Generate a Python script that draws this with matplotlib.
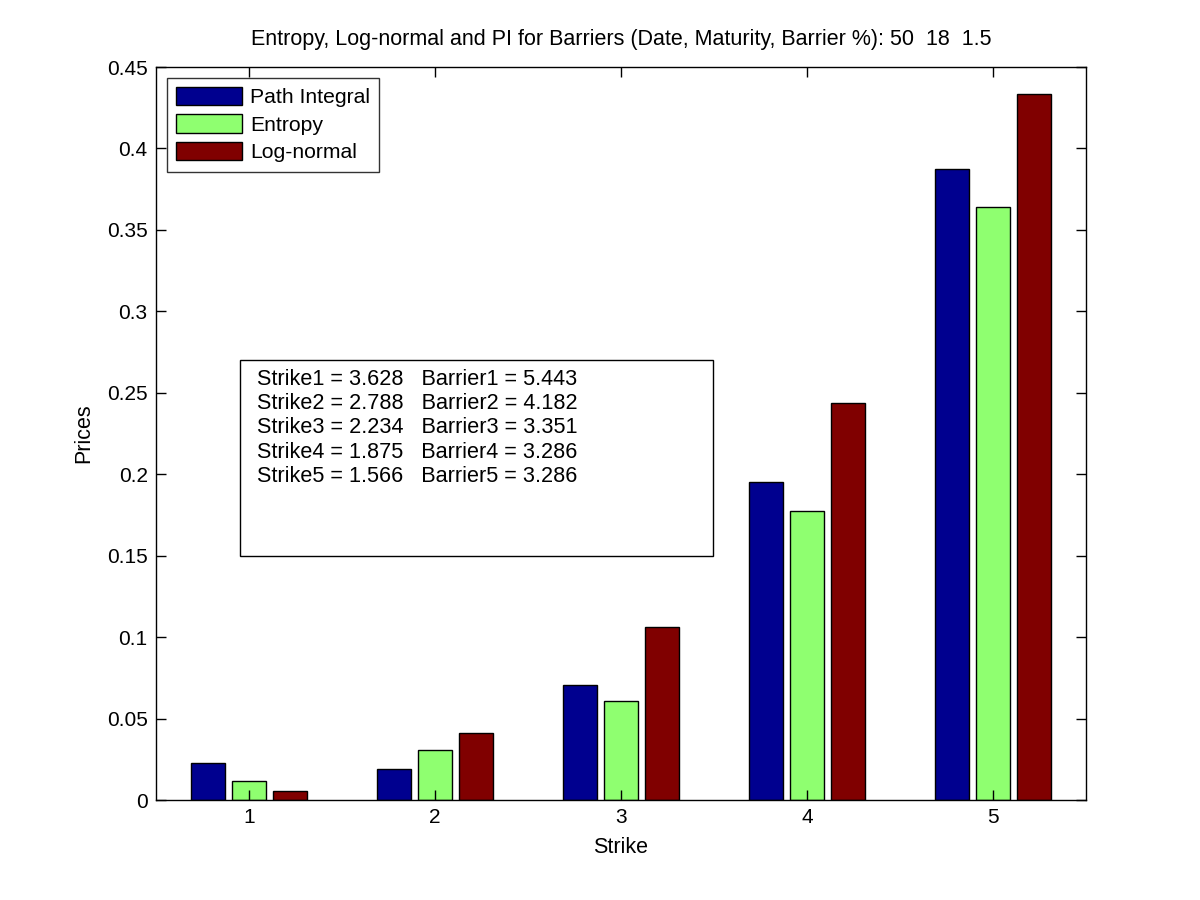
import numpy as np
import matplotlib.pyplot as plt
from matplotlib.patches import Rectangle

plt.rcParams['font.family'] = ['Liberation Sans', 'DejaVu Sans']

# ---------------------- data ----------------------
strikes = [1, 2, 3, 4, 5]
path_integral = [0.0227, 0.0190, 0.0706, 0.1952, 0.3874]
entropy = [0.0117, 0.0305, 0.0608, 0.1772, 0.3640]
log_normal = [0.0055, 0.0411, 0.1060, 0.2435, 0.4334]
series_names = ['Path Integral', 'Entropy', 'Log-normal']
strike_vals = ['3.628', '2.788', '2.234', '1.875', '1.566']
barrier_vals = ['5.443', '4.182', '3.351', '3.286', '3.286']
title = 'Entropy, Log-normal and PI for Barriers (Date, Maturity, Barrier %): 50  18  1.5'

colors = ['#00008F', '#8FFF70', '#800000']

# ---------------------- plot ----------------------
fig = plt.figure(figsize=(12, 9), dpi=100)
ax = fig.add_axes([0.13, 0.111, 0.775, 0.8145])

x = np.array(strikes, dtype=float)
width = 0.18
offsets = [-0.22, 0.0, 0.22]
for vals, off, col, name in zip([path_integral, entropy, log_normal], offsets, colors, series_names):
    ax.bar(x + off, vals, width=width, color=col, edgecolor='black', linewidth=1.0, label=name)

ax.set_xlim(0.5, 5.5)
ax.set_ylim(0, 0.45)
ax.set_xticks(strikes)
ax.set_yticks(np.arange(0, 0.451, 0.05))
ax.set_yticklabels(['0', '0.05', '0.1', '0.15', '0.2', '0.25', '0.3', '0.35', '0.4', '0.45'])
ax.tick_params(direction='in', top=True, right=True, labelsize=15, length=7, width=1, pad=6)
for sp in ax.spines.values():
    sp.set_linewidth(1)

ax.set_xlabel('Strike', fontsize=15.5, labelpad=7)
ax.set_ylabel('Prices', fontsize=15.5, labelpad=9)
ax.set_title(title, fontsize=15.5, pad=16)

leg = ax.legend(loc='upper left', fontsize=15.2, frameon=True, fancybox=False, edgecolor='black',
                handlelength=3.1, handleheight=0.95, borderaxespad=0.5, borderpad=0.45,
                labelspacing=0.33, handletextpad=0.4)
leg.get_frame().set_linewidth(1)

# annotation box with strike / barrier values
ax.add_patch(Rectangle((0.0903, 0.333), 0.509, 0.267, transform=ax.transAxes,
                       facecolor='white', edgecolor='black', linewidth=1, zorder=3))
lines = ['Strike%d = %s   Barrier%d = %s' % (i + 1, s, i + 1, b)
         for i, (s, b) in enumerate(zip(strike_vals, barrier_vals))]
ax.text(0.1086, 0.588, '\n'.join(lines), transform=ax.transAxes, fontsize=15.6,
        va='top', ha='left', linespacing=1.2, zorder=4)

fig.savefig('out.png', dpi=100)
